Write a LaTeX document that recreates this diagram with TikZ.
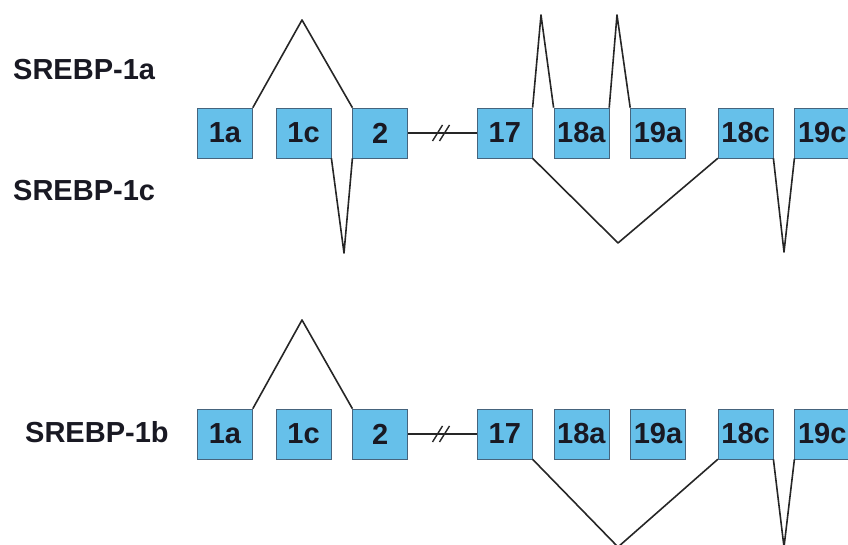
\documentclass[tikz,border=0pt]{standalone}
\usepackage{fontspec}
\setmainfont{Liberation Sans}
\usepackage{xcolor}
\usepackage{tikz}
\usetikzlibrary{positioning, calc}

\definecolor{exonblue}{RGB}{102,192,234}
\definecolor{exonline}{RGB}{70,100,125}
\definecolor{inktext}{RGB}{25,25,35}

\begin{document}
\begin{tikzpicture}[
  x=1pt, y=1pt,
  node distance=21pt,
  exon/.style={draw=exonline, line width=0.6pt, fill=exonblue, minimum width=55pt, minimum height=50pt,
               inner sep=0pt, text=inktext, font=\fontsize{29}{31}\selectfont\bfseries},
  isoname/.style={anchor=west, inner sep=0pt, text=inktext, font=\fontsize{29}{31}\selectfont\bfseries},
  splice/.style={line width=1.6pt, black!85, line join=round},
  brk/.style={line width=1.4pt, black!85},
]
\useasboundingbox (0,0) rectangle (848,545);

% === Row 1: SREBP-1a / SREBP-1c ===
\node[isoname] (lab1a) at (13,475) {SREBP-1a};
\node[isoname] (lab1c) at (13,354) {SREBP-1c};

\node[exon] (t1a) at (225,412) {1a};
\node[exon, right=23pt of t1a] (t1c) {1c};
\node[exon, right=of t1c] (t2) {2};
\node[exon, right=69pt of t2] (t17) {17};
\node[exon, right=of t17] (t18a) {18a};
\node[exon, right=of t18a] (t19a) {19a};
\node[exon, right=32pt of t19a] (t18c) {18c};
\node[exon, right=of t18c] (t19c) {19c};

% gap between exon 2 and 17
\draw[splice] (t2) -- (t17);
\coordinate (tbrk) at ($(t2.east)!0.5!(t17.west)$);
\draw[brk] ($(tbrk)+(-10,-8)$) -- ++(10,16);
\draw[brk] ($(tbrk)+(-3,-8)$) -- ++(10,16);

% splice peaks above and below
\coordinate (tpk1) at (302,525);
\coordinate (tpk2) at (344,292);
\coordinate (tpk3) at (541,530);
\coordinate (tpk4) at (617,530);
\coordinate (tpk5) at (618,302);
\coordinate (tpk6) at (784,293);

\draw[splice] (t1a.north east) -- (tpk1) -- (t2.north west);
\draw[splice] (t1c.south east) -- (tpk2) -- (t2.south west);
\draw[splice] (t17.north east) -- (tpk3) -- (t18a.north west);
\draw[splice] (t18a.north east) -- (tpk4) -- (t19a.north west);
\draw[splice] (t17.south east) -- (tpk5) -- (t18c.south west);
\draw[splice] (t18c.south east) -- (tpk6) -- (t19c.south west);

% === Row 2: SREBP-1b ===
\node[isoname] (lab1b) at (25,113) {SREBP-1b};

\node[exon] (b1a) at (225,111) {1a};
\node[exon, right=23pt of b1a] (b1c) {1c};
\node[exon, right=of b1c] (b2) {2};
\node[exon, right=69pt of b2] (b17) {17};
\node[exon, right=of b17] (b18a) {18a};
\node[exon, right=of b18a] (b19a) {19a};
\node[exon, right=32pt of b19a] (b18c) {18c};
\node[exon, right=of b18c] (b19c) {19c};

\draw[splice] (b2) -- (b17);
\coordinate (bbrk) at ($(b2.east)!0.5!(b17.west)$);
\draw[brk] ($(bbrk)+(-10,-8)$) -- ++(10,16);
\draw[brk] ($(bbrk)+(-3,-8)$) -- ++(10,16);

\coordinate (bpk1) at (302,225);
\coordinate (bpk2) at (618,-2);
\coordinate (bpk3) at (784,-2);

\draw[splice] (b1a.north east) -- (bpk1) -- (b2.north west);
\draw[splice] (b17.south east) -- (bpk2) -- (b18c.south west);
\draw[splice] (b18c.south east) -- (bpk3) -- (b19c.south west);

\end{tikzpicture}
\end{document}
